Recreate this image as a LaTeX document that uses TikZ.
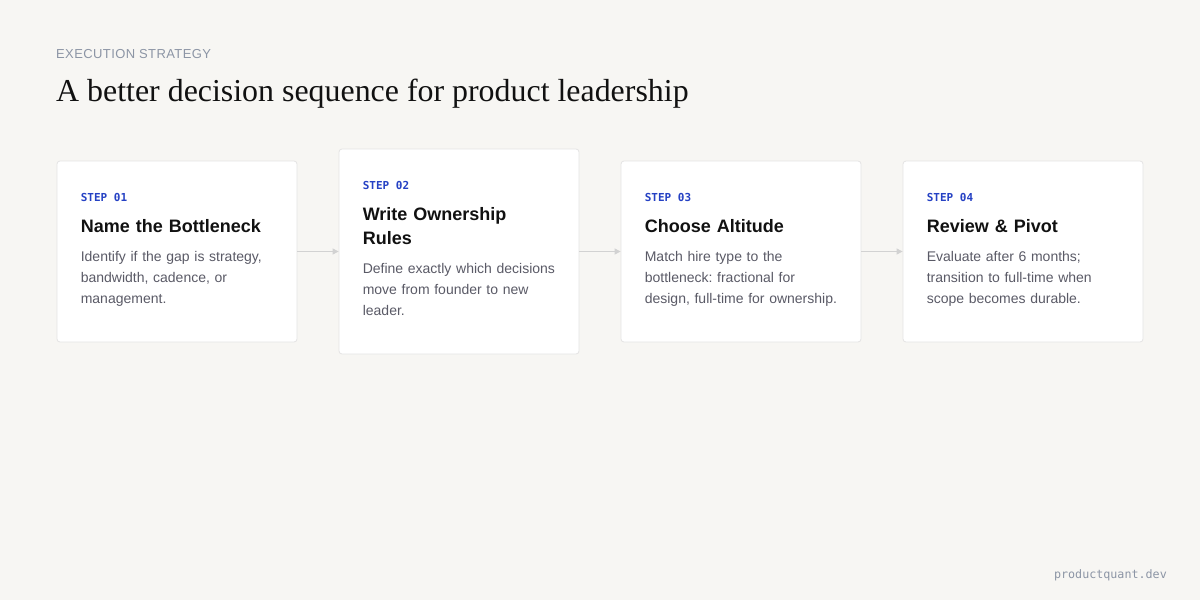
\documentclass[tikz,border=0pt]{standalone}
\usepackage{fontspec}
\setmainfont{Liberation Serif}
\newfontfamily\sansf{Liberation Sans}
\newfontfamily\trackf[LetterSpace=3]{Liberation Sans}
\newfontfamily\monof{DejaVu Sans Mono}
\usepackage{tikz}
\usetikzlibrary{arrows.meta}
\frenchspacing

\definecolor{bgpaper}{HTML}{F7F6F3}
\definecolor{cardline}{HTML}{E4E4E4}
\definecolor{stepblue}{HTML}{2541C4}
\definecolor{headink}{HTML}{111111}
\definecolor{bodyink}{HTML}{5A5A66}
\definecolor{eyebrow}{HTML}{8C95A5}
\definecolor{linkgray}{HTML}{D2D2D2}

\begin{document}
\begin{tikzpicture}[x=1pt, y=-1pt,
    card/.style={draw=cardline, line width=0.8pt, fill=white, rounded corners=3pt,
      minimum width=240pt, inner sep=0pt},
    steplabel/.style={anchor=base west, inner sep=0pt, text=stepblue,
      font=\monof\bfseries\fontsize{11}{13}\selectfont},
    steptitle/.style={anchor=base west, inner sep=0pt, text=headink, align=left,
      text width=200pt, font=\sansf\bfseries\fontsize{18}{24}\selectfont},
    stepbody/.style={anchor=base west, inner sep=0pt, text=bodyink, align=left,
      text width=200pt, font=\sansf\fontsize{14}{21}\selectfont},
    link/.style={draw=linkgray, line width=1pt, -{Triangle[length=6pt, width=6pt]}}]
    % --- Page ---
    \fill[bgpaper] (0,0) rectangle (1200,600);
    \useasboundingbox (0,0) rectangle (1200,600);

    % Header
    \node[anchor=base west, inner sep=0pt, text=eyebrow, font=\trackf\fontsize{13}{15}\selectfont]
      (eyebrowtext) at (56,58) {EXECUTION STRATEGY};
    \node[anchor=base west, inner sep=0pt, text=headink, font=\fontsize{31.9}{38}\selectfont]
      (headline) at (56,101) {A better decision sequence for product leadership};

    % Cards
    \node[card, minimum height=181pt] (c1) at (177,251.5) {};
    \node[card, minimum height=205pt] (c2) at (459,251.5) {};
    \node[card, minimum height=181pt] (c3) at (741,251.5) {};
    \node[card, minimum height=181pt] (c4) at (1023,251.5) {};

    % Step 01
    \node[steplabel] (s1) at ([shift={(24,41)}]c1.north west) {STEP 01};
    \node[steptitle] (t1) at ([shift={(24,72)}]c1.north west) {Name the Bottleneck};
    \node[stepbody] (b1) at ([shift={(24,101)}]c1.north west)
      {Identify if the gap is strategy,\\bandwidth, cadence, or\\management.};

    % Step 02
    \node[steplabel] (s2) at ([shift={(24,41)}]c2.north west) {STEP 02};
    \node[steptitle] (t2) at ([shift={(24,72)}]c2.north west) {Write Ownership\\Rules};
    \node[stepbody] (b2) at ([shift={(24,125)}]c2.north west)
      {Define exactly which decisions\\move from founder to new\\leader.};

    % Step 03
    \node[steplabel] (s3) at ([shift={(24,41)}]c3.north west) {STEP 03};
    \node[steptitle] (t3) at ([shift={(24,72)}]c3.north west) {Choose Altitude};
    \node[stepbody] (b3) at ([shift={(24,101)}]c3.north west)
      {Match hire type to the\\bottleneck: fractional for\\design, full-time for ownership.};

    % Step 04
    \node[steplabel] (s4) at ([shift={(24,41)}]c4.north west) {STEP 04};
    \node[steptitle] (t4) at ([shift={(24,72)}]c4.north west) {Review \& Pivot};
    \node[stepbody] (b4) at ([shift={(24,101)}]c4.north west)
      {Evaluate after 6 months;\\transition to full-time when\\scope becomes durable.};

    % Connectors
    \draw[link] (c1.east) -- (c2.west);
    \draw[link] (c2.east) -- (c3.west);
    \draw[link] (c3.east) -- (c4.west);

    % Footer
    \node[anchor=base east, inner sep=0pt, text=eyebrow, font=\monof\fontsize{11.7}{14}\selectfont]
      (footer) at (1167,578) {productquant.dev};
\end{tikzpicture}
\end{document}
